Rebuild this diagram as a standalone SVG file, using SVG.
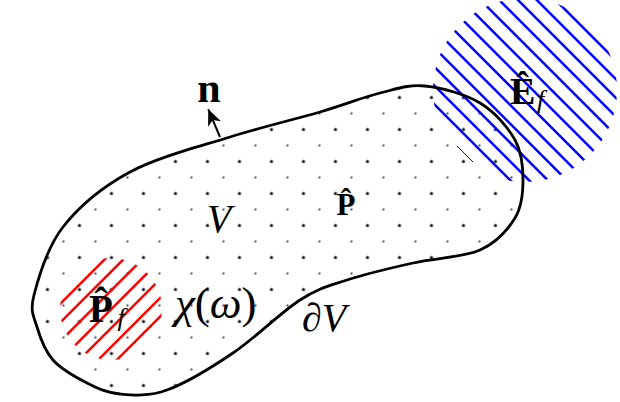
<svg xmlns="http://www.w3.org/2000/svg" width="620" height="402" viewBox="0 0 620 402">
  <style>
    .outline { fill: none; stroke: #000; stroke-width: 2.8; }
    .blue { stroke: #0000ff; stroke-width: 2.5; }
    .red { stroke: #ff0000; stroke-width: 2.5; }
    .lbl { font-family: "Liberation Serif", "DejaVu Serif", serif; fill: #000; }
    .it { font-style: italic; }
    .bf { font-weight: bold; }
  </style>
  <defs>
    <pattern id="dots" patternUnits="userSpaceOnUse" x="7.5" y="-6.5" width="32" height="32">
      <circle cx="8" cy="8" r="1.6" fill="#000"/>
      <circle cx="24" cy="24" r="0.9" fill="#000"/>
    </pattern>
    <clipPath id="clipE"><circle cx="525" cy="90" r="92"/></clipPath>
    <clipPath id="clipP"><circle cx="111" cy="309" r="51"/></clipPath>
    <marker id="stealth" viewBox="0 -8 16 16" markerUnits="userSpaceOnUse" markerWidth="16" markerHeight="16" refX="16" refY="0" orient="auto">
      <path d="M16,0 L0,-7 L4.5,0 L0,7 Z" fill="#000"/>
    </marker>
  </defs>
  <rect x="0" y="0" width="620" height="402" fill="#fff"/>

  <g id="volume-V">
    <path id="blob-fill" fill="url(#dots)" stroke="none" d="M34,295 C38.3,278.3 47,247.5 63,227 C79,206.5 102.2,187 130,172 C157.8,157 198.3,147 230,137 C261.7,127 295,119.3 320,112 C345,104.7 362.5,97.3 380,93 C397.5,88.7 408.3,84.3 425,86 C441.7,87.7 465,94 480,103 C495,112 507.8,127.2 515,140 C522.2,152.8 523,167 523,180 C523,193 522.2,206.3 515,218 C507.8,229.7 497,242.5 480,250 C463,257.5 435.2,258 413,263 C390.8,268 365.8,273.8 347,280 C328.2,286.2 319,287.8 300,300 C281,312.2 255.2,338 233,353 C210.8,368 185.8,383.2 167,390 C148.2,396.8 133.3,395.2 120,394 C106.7,392.8 98.2,388.7 87,383 C75.8,377.3 61.3,369.3 53,360 C44.7,350.7 40.2,337.8 37,327 C33.8,316.2 29.7,311.7 34,295 Z"/>
  </g>

  <g id="region-Pf">
    <g clip-path="url(#clipP)">
      <line class="red" x1="114" y1="250" x2="-6" y2="370"/>
      <line class="red" x1="132.8" y1="250" x2="12.8" y2="370"/>
      <line class="red" x1="151.6" y1="250" x2="31.6" y2="370"/>
      <line class="red" x1="170.4" y1="250" x2="50.4" y2="370"/>
      <line class="red" x1="189.2" y1="250" x2="69.2" y2="370"/>
      <line class="red" x1="208" y1="250" x2="88" y2="370"/>
      <line class="red" x1="226.8" y1="250" x2="106.8" y2="370"/>
    </g>
  </g>

  <g id="region-Ef">
    <g clip-path="url(#clipE)">
      <line class="blue" x1="320" y1="-10" x2="530" y2="200"/>
      <line class="blue" x1="338.8" y1="-10" x2="548.8" y2="200"/>
      <line class="blue" x1="357.6" y1="-10" x2="567.6" y2="200"/>
      <line class="blue" x1="376.4" y1="-10" x2="586.4" y2="200"/>
      <line class="blue" x1="395.2" y1="-10" x2="605.2" y2="200"/>
      <line class="blue" x1="414" y1="-10" x2="624" y2="200"/>
      <line class="blue" x1="432.8" y1="-10" x2="642.8" y2="200"/>
      <line class="blue" x1="451.6" y1="-10" x2="661.6" y2="200"/>
      <line class="blue" x1="470.4" y1="-10" x2="680.4" y2="200"/>
      <line class="blue" x1="489.2" y1="-10" x2="699.2" y2="200"/>
      <line class="blue" x1="508" y1="-10" x2="718" y2="200"/>
      <line class="blue" x1="526.8" y1="-10" x2="736.8" y2="200"/>
      <line class="blue" x1="545.6" y1="-10" x2="755.6" y2="200"/>
    </g>
    <line x1="457" y1="146" x2="473" y2="162" stroke="#0000ff" stroke-width="1"/>
  </g>

  <g id="boundary-dV">
    <path class="outline" d="M34,295 C38.3,278.3 47,247.5 63,227 C79,206.5 102.2,187 130,172 C157.8,157 198.3,147 230,137 C261.7,127 295,119.3 320,112 C345,104.7 362.5,97.3 380,93 C397.5,88.7 408.3,84.3 425,86 C441.7,87.7 465,94 480,103 C495,112 507.8,127.2 515,140 C522.2,152.8 523,167 523,180 C523,193 522.2,206.3 515,218 C507.8,229.7 497,242.5 480,250 C463,257.5 435.2,258 413,263 C390.8,268 365.8,273.8 347,280 C328.2,286.2 319,287.8 300,300 C281,312.2 255.2,338 233,353 C210.8,368 185.8,383.2 167,390 C148.2,396.8 133.3,395.2 120,394 C106.7,392.8 98.2,388.7 87,383 C75.8,377.3 61.3,369.3 53,360 C44.7,350.7 40.2,337.8 37,327 C33.8,316.2 29.7,311.7 34,295 Z"/>
  </g>

  <g id="connectors">
    <line x1="220" y1="137" x2="208.3" y2="109.3" stroke="#000" stroke-width="2" marker-end="url(#stealth)"/>
  </g>

  <g id="labels">
    <text class="lbl bf" x="209" y="101.5" font-size="42" text-anchor="middle">n</text>
    <text class="lbl bf" x="510" y="103.5" font-size="38">Ê</text>
    <text class="lbl it" x="540.5" y="108" font-size="26" text-anchor="middle">f</text>
    <text class="lbl it" x="219" y="231.5" font-size="40" text-anchor="middle">V</text>
    <text class="lbl bf" x="346" y="215" font-size="31" text-anchor="middle">P̂</text>
    <text class="lbl bf" x="101" y="321.5" font-size="39" text-anchor="middle">P̂</text>
    <text class="lbl it" x="121" y="326" font-size="26" text-anchor="middle">f</text>
    <text class="lbl" x="175" y="318" font-size="45"><tspan class="it">χ</tspan>(<tspan class="it">ω</tspan>)</text>
    <text class="lbl it" x="302" y="331" font-size="40">∂V</text>
  </g>
</svg>
